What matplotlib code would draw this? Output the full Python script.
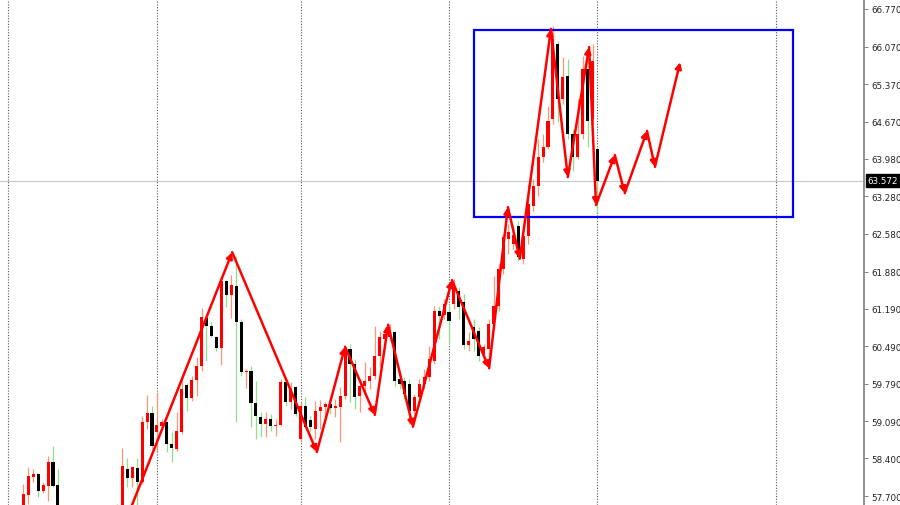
import matplotlib
matplotlib.use("Agg")
import matplotlib.pyplot as plt
from matplotlib.patches import Rectangle

# OHLC per bar (bar 0 is the leftmost visible candle)
opens = [57.37, 57.72, 58.05, 58.11, 57.79, 57.89, 58.33, 57.91, 57.18, 56.90,
         56.75, 57.12, 56.99, 56.44, 56.16, 56.44, 56.68, 56.30, 56.71, 57.09,
         57.42, 58.20, 58.04, 58.22, 57.96, 59.08, 59.25, 58.89, 59.01, 59.08,
         58.67, 58.58, 58.89, 59.77, 59.53, 59.86, 60.12, 61.02, 60.87, 60.66,
         60.46, 61.71, 61.44, 61.61, 60.94, 60.01, 60.03, 59.43, 59.17, 59.04,
         59.14, 59.01, 59.02, 59.82, 59.45, 59.73, 58.76, 59.38, 59.12, 58.95,
         59.28, 59.36, 59.41, 59.34, 59.36, 59.56, 60.44, 60.16, 59.56, 59.75,
         59.84, 59.94, 60.31, 60.62, 60.66, 60.75, 59.88, 59.84, 59.79, 59.28,
         59.54, 59.79, 59.92, 60.22, 61.15, 61.07, 61.13, 61.28, 61.52, 61.31,
         60.51, 60.85, 60.77, 60.35, 60.44, 60.90, 61.24, 61.93, 62.49, 62.39,
         62.73, 62.12, 62.54, 63.10, 63.47, 64.01, 64.20, 64.72, 66.12, 65.09,
         65.52, 64.44, 64.01, 64.44, 65.65, 64.72, 64.16]
highs = [57.92, 58.24, 58.20, 58.13, 57.96, 58.45, 58.63, 58.20, 57.37, 57.09,
         57.27, 57.42, 57.18, 56.71, 56.53, 56.75, 56.90, 56.81, 57.18, 57.55,
         58.59, 58.41, 58.26, 58.41, 59.19, 59.58, 59.38, 59.64, 59.14, 59.10,
         58.89, 59.27, 59.88, 59.81, 59.94, 60.29, 61.20, 61.05, 60.94, 60.68,
         61.74, 61.72, 61.82, 62.17, 61.00, 60.07, 60.12, 59.84, 59.27, 59.27,
         59.23, 59.14, 59.88, 59.86, 59.82, 59.75, 59.45, 59.54, 59.19, 59.47,
         59.49, 59.45, 59.54, 59.51, 59.73, 60.49, 60.53, 60.25, 59.88, 60.20,
         60.10, 60.87, 60.77, 60.85, 60.90, 60.77, 59.97, 59.91, 59.88, 59.60,
         59.88, 60.07, 60.49, 61.24, 61.24, 61.37, 61.28, 61.74, 61.59, 61.46,
         60.75, 61.00, 60.85, 60.53, 61.00, 61.80, 62.02, 62.58, 62.77, 62.75,
         62.82, 62.58, 63.51, 63.60, 64.35, 64.44, 64.96, 66.45, 66.17, 65.88,
         65.84, 64.54, 65.09, 65.90, 66.08, 66.12, 64.22]
lows = [57.24, 57.55, 57.96, 57.68, 57.76, 57.61, 57.87, 56.99, 56.81, 56.53,
        56.68, 56.90, 56.34, 55.97, 55.88, 56.25, 56.16, 56.19, 56.60, 56.99,
        57.27, 57.87, 57.87, 57.52, 57.92, 58.95, 58.58, 58.52, 58.95, 58.52,
        58.33, 58.54, 58.86, 59.28, 59.47, 59.56, 60.03, 60.22, 60.66, 60.40,
        60.14, 61.22, 61.02, 59.08, 59.94, 59.71, 58.99, 58.76, 58.80, 58.80,
        58.91, 58.82, 59.01, 59.38, 59.32, 59.19, 58.71, 58.95, 58.91, 58.76,
        58.95, 59.14, 59.23, 59.17, 58.71, 59.51, 59.45, 59.32, 59.27, 59.60,
        59.69, 59.88, 60.12, 60.53, 60.59, 59.75, 59.69, 59.51, 59.04, 59.14,
        59.47, 59.69, 59.84, 60.16, 60.62, 61.00, 60.53, 61.18, 61.00, 60.44,
        60.40, 60.40, 60.22, 60.16, 60.16, 60.81, 61.15, 61.84, 62.21, 62.30,
        62.08, 62.02, 62.39, 63.01, 63.29, 63.92, 64.16, 64.63, 64.67, 65.00,
        64.35, 63.75, 63.98, 64.35, 64.20, 64.63, 62.99]
closes = [57.74, 58.07, 58.11, 57.79, 57.91, 58.33, 57.89, 57.18, 56.90, 56.75,
          57.12, 56.99, 56.44, 56.16, 56.44, 56.68, 56.30, 56.71, 57.09, 57.42,
          58.26, 58.04, 58.24, 57.96, 59.08, 59.25, 58.63, 59.02, 59.08, 58.67,
          58.59, 58.91, 59.69, 59.53, 59.86, 60.12, 61.03, 60.87, 60.68, 60.46,
          61.71, 61.44, 61.63, 60.94, 60.01, 60.03, 59.43, 59.19, 59.04, 59.14,
          59.01, 59.02, 59.82, 59.45, 59.69, 59.23, 59.38, 58.99, 58.99, 59.28,
          59.36, 59.41, 59.34, 59.38, 59.56, 60.44, 60.16, 59.54, 59.75, 59.84,
          59.94, 60.31, 60.66, 60.72, 60.77, 59.84, 59.79, 59.60, 59.28, 59.54,
          59.79, 59.92, 60.25, 61.15, 61.05, 61.28, 60.96, 61.59, 61.22, 60.51,
          60.59, 60.62, 60.31, 60.48, 60.90, 61.24, 61.93, 62.52, 62.62, 62.56,
          62.15, 62.54, 63.14, 63.47, 64.01, 64.20, 64.69, 66.21, 65.09, 65.50,
          64.44, 64.01, 64.44, 65.65, 64.69, 65.80, 63.572]

# zigzag arrows (bar index, price)
zigzag_x = [19.5, 42.2, 59.3, 65.0, 71.0, 73.7, 78.7, 86.6, 94.1, 97.9,
            100.3, 106.6, 110.0, 114.3, 115.7, 119.5, 121.5, 126.0, 127.6, 132.7]
zigzag_y = [56.96, 62.24, 58.52, 60.48, 59.21, 60.89, 58.99, 61.72, 60.08, 63.08,
            62.12, 66.40, 63.64, 66.06, 63.12, 64.05, 63.34, 64.50, 63.83, 65.78]

box_x = [91.0, 155.5]
box_y = [62.90, 66.38]

grid_bars = [-3, 27, 56, 86, 116, 152]
price_ticks = [66.770, 66.070, 65.370, 64.670, 63.980, 63.280, 62.580,
               61.880, 61.190, 60.490, 59.790, 59.090, 58.400, 57.700]
last_price = 63.572

fig = plt.figure(figsize=(9, 5.06), dpi=100)
ax = fig.add_axes([0, 0, 864 / 900, 1])
ax.set_xlim(-4.71, 169.84)
ax.set_ylim(57.533, 66.956)

for g in grid_bars:
    ax.axvline(g, color="#555555", lw=0.8, ls=(0, (1, 1.5)), zorder=1)
ax.axhline(last_price, color="#c8c8c8", lw=0.8, zorder=1)

for i in range(len(opens)):
    o, h, l, c = opens[i], highs[i], lows[i], closes[i]
    up = c >= o
    wick = "#ff9473" if up else "#8ee08e"
    body = "#ff0000" if up else "#000000"
    ax.vlines(i, l, h, color=wick, lw=0.9, zorder=2)
    ax.bar(i, max(abs(c - o), 0.02), bottom=min(o, c), width=0.62,
           color=body, lw=0, zorder=3)

ax.add_patch(Rectangle((box_x[0], box_y[0]), box_x[1] - box_x[0], box_y[1] - box_y[0],
                       fill=False, ec="#0000ff", lw=1.6, zorder=4))

for k in range(len(zigzag_x) - 1):
    ax.annotate("", xy=(zigzag_x[k + 1], zigzag_y[k + 1]), xytext=(zigzag_x[k], zigzag_y[k]),
                arrowprops=dict(arrowstyle="-|>", color="#ff0000", lw=1.8,
                                mutation_scale=9, shrinkA=0, shrinkB=0),
                zorder=5)

for s in ["top", "left", "bottom"]:
    ax.spines[s].set_visible(False)
ax.spines["right"].set_color("#808080")
ax.spines["right"].set_linewidth(1.2)
ax.set_xticks([])
ax.yaxis.tick_right()
ax.set_yticks(price_ticks)
ax.set_yticklabels(["%.3f" % t for t in price_ticks])
ax.tick_params(axis="y", direction="out", length=3, width=0.7, color="#808080",
               labelsize=6.3, labelcolor="#222222", pad=2)

ax.annotate("%.3f" % last_price, xy=(1, last_price), xycoords=("axes fraction", "data"),
            xytext=(2.5, 0), textcoords="offset points", va="center", ha="left",
            fontsize=6.3, color="white",
            bbox=dict(boxstyle="square,pad=0.2", fc="black", ec="black"))

fig.savefig("out.png", dpi=100)
